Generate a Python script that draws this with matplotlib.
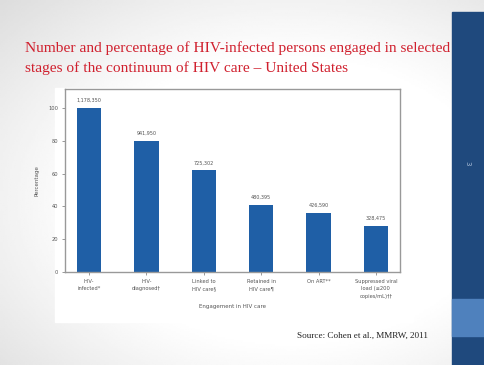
import numpy as np
import matplotlib
matplotlib.use("Agg")
import matplotlib.pyplot as plt
from matplotlib.patches import Rectangle

# ---- data ----
stages = ["HIV-\ninfected*", "HIV-\ndiagnosed\u2020", "Linked to\nHIV care\u00a7",
          "Retained in\nHIV care\u00b6", "On ART**", "Suppressed viral\nload (\u2264200\ncopies/mL)\u2020\u2020"]
percentages = [100, 80, 62, 41, 36, 28]
counts = ["1,178,350", "941,950", "725,302", "480,395", "426,590", "328,475"]
yticks = [0, 20, 40, 60, 80, 100]

W, H = 485, 365
fig = plt.figure(figsize=(W / 100, H / 100), dpi=100)

# background slide gradient
bg = fig.add_axes([0, 0, 1, 1])
bg.set_axis_off()
yy, xx = np.mgrid[0:1:200j, 0:1:260j]
d = np.sqrt(((xx - 0.6) / 0.75) ** 2 + ((yy - 0.55) / 0.7) ** 2)
g = np.clip(1.0 - 0.25 * np.clip(d - 0.55, 0, None) ** 1.1, 0.82, 1.0)
bg.imshow(g, cmap="gray", vmin=0, vmax=1, extent=[0, 1, 0, 1], aspect="auto")
bg.set_xlim(0, 1)
bg.set_ylim(0, 1)

def px(x, y):
    return x / W, 1 - y / H

# right band
bg.add_patch(Rectangle((452 / W, 0), 1 - 452 / W, 1 - 12 / H, color="#1f497d", zorder=2))
bg.add_patch(Rectangle((452 / W, 1 - 336 / H), 1 - 452 / W, 37 / H, color="#4f81bd", zorder=3))
bg.text(*px(467, 163), "3", rotation=270, color="#a8bcd6", fontsize=5,
        ha="center", va="center", zorder=4)

# white chart image box
bg.add_patch(Rectangle(px(55, 322), 358 / W, 234 / H, color="white", zorder=1))

# title
bg.text(*px(25, 52), "Number and percentage of HIV-infected persons engaged in selected",
        color="#d0202e", fontsize=11.1, family="Liberation Serif", va="baseline", ha="left")
bg.text(*px(25, 72), "stages of the continuum of HIV care \u2013 United States",
        color="#d0202e", fontsize=11.1, family="Liberation Serif", va="baseline", ha="left")
bg.text(*px(297, 338), "Source: Cohen et al., MMRW, 2011", color="#222222",
        fontsize=6.6, family="Liberation Serif", va="baseline", ha="left")

# chart axes
ax = fig.add_axes([65 / W, 1 - 272 / H, 335 / W, (272 - 89) / H])
x = np.arange(len(percentages))
ax.bar(x, percentages, width=0.42, color="#1f5fa6")
for xi, p, c in zip(x, percentages, counts):
    ax.text(xi, p + 3, c, ha="center", va="bottom", fontsize=3.5, color="#555555")
ax.set_xlim(-0.42, len(x) - 1 + 0.42)
ax.set_ylim(0, 111.5)
ax.set_yticks(yticks)
ax.set_yticklabels([str(t) for t in yticks], fontsize=3.7, color="#555555")
ax.set_xticks(x)
ax.set_xticklabels(stages, fontsize=3.7, color="#555555", linespacing=1.6)
ax.tick_params(length=2, width=0.6, color="#888888", pad=3)
ax.set_ylabel("Percentage", fontsize=4, color="#555555", labelpad=6)
ax.set_xlabel("Engagement in HIV care", fontsize=4, color="#555555", labelpad=4)
for s in ax.spines.values():
    s.set_color("#999999")
    s.set_linewidth(1.0)

fig.savefig("out.png", dpi=100)
